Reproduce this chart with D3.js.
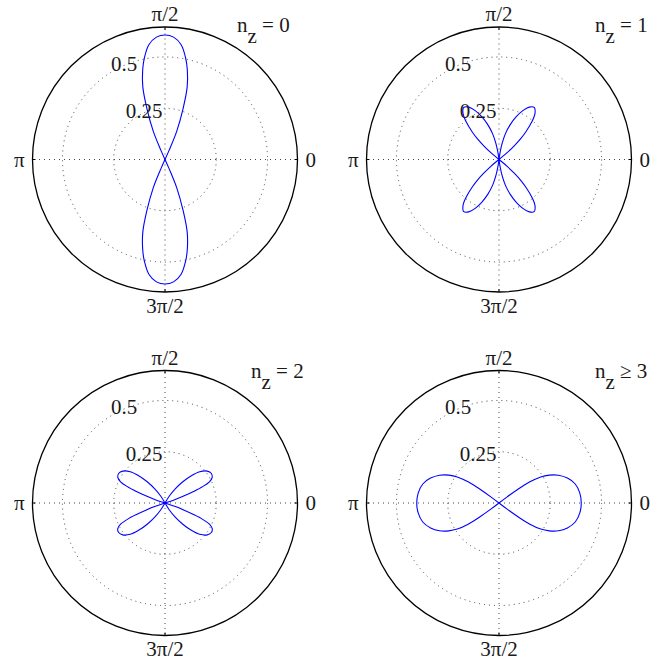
<!DOCTYPE html>
<html>
<head>
<meta charset="utf-8">
<script src="https://cdnjs.cloudflare.com/ajax/libs/d3/7.8.5/d3.min.js"></script>
<style>
body { margin: 0; background: #fff; }
svg { display: block; }
text { font-family: "Times New Roman", "Liberation Serif", Times, serif; fill: #1a1a1a; }
</style>
</head>
<body>
<div id="chart"></div>
<script>
var angleTicks = [0, 90, 180, 270];
var angleLabels = ["0", "π/2", "π", "3π/2"];
var radiusTicks = [0.25, 0.5];
var radiusTickLabels = ["0.25", "0.5"];
var radiusMax = 0.646;
var nzLabels = ["= 0", "= 1", "= 2", "≥ 3"];

// lobes as [angle in degrees, radius]
var lobesNz0 = [
        [[65,0],[66,0.05],[67.5,0.15],[70.5,0.265],[73,0.37],[76,0.45],[78.5,0.505],[82,0.565],[86,0.598],[90,0.607],
         [94,0.598],[98,0.565],[101.5,0.505],[104,0.45],[107,0.37],[109.5,0.265],[112.5,0.15],[114,0.05],[115,0]],
        [[245,0],[246,0.05],[247.5,0.15],[250.5,0.265],[253,0.37],[256,0.45],[258.5,0.505],[262,0.565],[266,0.598],[270,0.607],
         [274,0.598],[278,0.565],[281.5,0.505],[284,0.45],[287,0.37],[289.5,0.265],[292.5,0.15],[294,0.05],[295,0]]
];
var lobesNz1 = [
        [[38,0],[40,0.05],[42,0.1],[44,0.15],[46,0.19],[49,0.245],[52,0.285],[56,0.307],[60,0.295],[64,0.265],
         [68,0.225],[72,0.18],[76,0.13],[79,0.08],[81,0.04],[82.5,0]],
        [[97.5,0],[99,0.04],[101,0.08],[104,0.13],[108,0.18],[112,0.225],[116,0.265],[120,0.295],[124,0.307],[128,0.285],
         [131,0.245],[134,0.19],[136,0.15],[138,0.1],[140,0.05],[142,0]],
        [[218,0],[220,0.05],[222,0.1],[224,0.15],[226,0.19],[229,0.245],[232,0.285],[236,0.307],[240,0.295],[244,0.265],
         [248,0.225],[252,0.18],[256,0.13],[259,0.08],[261,0.04],[262.5,0]],
        [[277.5,0],[279,0.04],[281,0.08],[284,0.13],[288,0.18],[292,0.225],[296,0.265],[300,0.295],[304,0.307],[308,0.285],
         [311,0.245],[314,0.19],[316,0.15],[318,0.1],[320,0.05],[322,0]]
];
var lobesNz2 = [
        [[17,0],[19,0.05],[20.5,0.1],[22,0.15],[23.5,0.2],[25.5,0.24],[28.5,0.262],[32.5,0.268],[37,0.258],[42,0.228],
         [46,0.185],[50,0.135],[54,0.085],[58,0.04],[62,0]],
        [[118,0],[122,0.04],[126,0.085],[130,0.135],[134,0.185],[138,0.228],[143,0.258],[147.5,0.268],[151.5,0.262],[154.5,0.24],
         [156.5,0.2],[158,0.15],[159.5,0.1],[161,0.05],[163,0]],
        [[197,0],[199,0.05],[200.5,0.1],[202,0.15],[203.5,0.2],[205.5,0.24],[208.5,0.262],[212.5,0.268],[217,0.258],[222,0.228],
         [226,0.185],[230,0.135],[234,0.085],[238,0.04],[242,0]],
        [[298,0],[302,0.04],[306,0.085],[310,0.135],[314,0.185],[318,0.228],[323,0.258],[327.5,0.268],[331.5,0.262],[334.5,0.24],
         [336.5,0.2],[338,0.15],[339.5,0.1],[341,0.05],[343,0]]
];
var lobesNz3 = [
        [[38,0],[37,0.05],[36,0.11],[34.5,0.18],[32,0.24],[29,0.28],[25,0.32],[20,0.355],[14,0.383],[7,0.397],[0,0.401],
         [-7,0.397],[-14,0.383],[-20,0.355],[-25,0.32],[-29,0.28],[-32,0.24],[-34.5,0.18],[-36,0.11],[-37,0.05],[-38,0]],
        [[142,0],[143,0.05],[144,0.11],[145.5,0.18],[148,0.24],[151,0.28],[155,0.32],[160,0.355],[166,0.383],[173,0.397],[180,0.401],
         [187,0.397],[194,0.383],[200,0.355],[205,0.32],[209,0.28],[212,0.24],[214.5,0.18],[216,0.11],[217,0.05],[218,0]]
];
var panels = [lobesNz0, lobesNz1, lobesNz2, lobesNz3];

var width = 664, height = 662;
var outerR = 132.5;
var fontSize = 21;
var centers = [[165, 159.5], [499, 159.5], [165, 503], [499, 503]];
var nzPos = [[72, -128], [96, -128], [86, -125.5], [96, -125.5]];
var toRad = Math.PI / 180;

var svg = d3.select('#chart').append('svg')
        .attr('width', width)
        .attr('height', height);

var rScale = d3.scaleLinear()
        .domain([0, radiusMax])
        .range([0, outerR]);

var lobeLine = d3.lineRadial()
        .angle(function(d) { return (90 - d[0]) * toRad; })
        .radius(function(d) { return rScale(d[1]); })
        .curve(d3.curveCatmullRom.alpha(0.5));

function px(deg, r) { return r * Math.cos(deg * toRad); }
function py(deg, r) { return -r * Math.sin(deg * toRad); }

panels.forEach(function(lobes, p) {
        var g = svg.append('g')
                .attr('transform', 'translate(' + centers[p][0] + ',' + centers[p][1] + ')');

        // dotted rings
        g.selectAll('circle.ring')
                .data(radiusTicks)
                .enter().append('circle')
                .attr('class', 'ring')
                .attr('r', function(d) { return rScale(d); })
                .attr('fill', 'none')
                .attr('stroke', '#444')
                .attr('stroke-width', 1)
                .attr('stroke-dasharray', '1,4');

        // dotted spokes
        g.selectAll('line.spoke')
                .data(angleTicks)
                .enter().append('line')
                .attr('class', 'spoke')
                .attr('x1', 0).attr('y1', 0)
                .attr('x2', function(d) { return px(d, outerR); })
                .attr('y2', function(d) { return py(d, outerR); })
                .attr('stroke', '#444')
                .attr('stroke-width', 1)
                .attr('stroke-dasharray', '1,4');

        // small ticks on the rim
        g.selectAll('line.tick')
                .data(angleTicks)
                .enter().append('line')
                .attr('class', 'tick')
                .attr('x1', function(d) { return px(d, outerR - 3); })
                .attr('y1', function(d) { return py(d, outerR - 3); })
                .attr('x2', function(d) { return px(d, outerR); })
                .attr('y2', function(d) { return py(d, outerR); })
                .attr('stroke', '#000')
                .attr('stroke-width', 1);

        g.append('circle')
                .attr('r', outerR)
                .attr('fill', 'none')
                .attr('stroke', '#000')
                .attr('stroke-width', 1.3);

        g.selectAll('path.lobe')
                .data(lobes)
                .enter().append('path')
                .attr('class', 'lobe')
                .attr('d', lobeLine)
                .attr('fill', 'none')
                .attr('stroke', '#0000ff')
                .attr('stroke-width', 1.1);

        // angle labels
        g.selectAll('text.alab')
                .data(angleTicks)
                .enter().append('text')
                .attr('class', 'alab')
                .attr('x', function(d) { return px(d, outerR * 1.1); })
                .attr('y', function(d) { return py(d, outerR * 1.1); })
                .attr('dy', '0.35em')
                .attr('text-anchor', 'middle')
                .style('font-size', fontSize + 'px')
                .text(function(d, i) { return angleLabels[i]; });

        // radius labels
        g.selectAll('text.rlab')
                .data(radiusTicks)
                .enter().append('text')
                .attr('class', 'rlab')
                .attr('x', function(d) { return px(113, rScale(d) + 2); })
                .attr('y', function(d) { return py(113, rScale(d) + 2); })
                .attr('dy', '0.35em')
                .attr('text-anchor', 'middle')
                .style('font-size', fontSize + 'px')
                .text(function(d, i) { return radiusTickLabels[i]; });

        var t = g.append('text')
                .attr('x', nzPos[p][0])
                .attr('y', nzPos[p][1])
                .style('font-size', fontSize + 'px');
        t.append('tspan').text('n');
        t.append('tspan').attr('dy', 11).text('z');
        t.append('tspan').attr('dy', -11).text(' ' + nzLabels[p]);
});
</script>
</body>
</html>
